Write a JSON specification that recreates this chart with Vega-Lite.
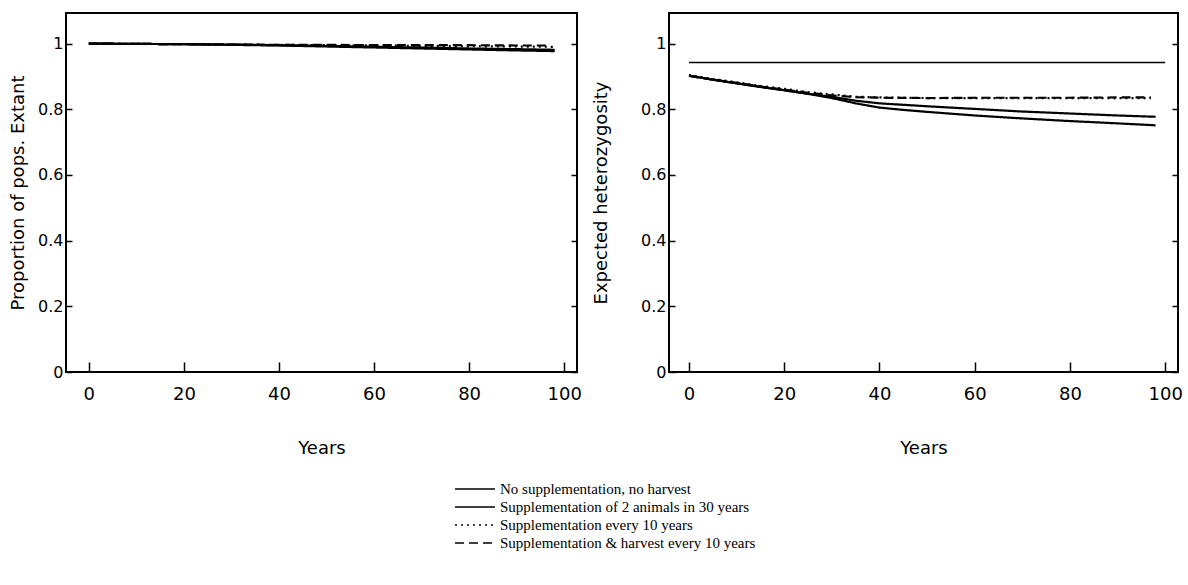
{
  "$schema": "https://vega.github.io/schema/vega-lite/v6.json",
  "padding": {"left": 8, "top": 12, "right": 5, "bottom": 5},
  "background": "white",
  "config": {
    "view": {"stroke": "black", "strokeWidth": 2},
    "font": "DejaVu Sans",
    "axis": {"domain": false, "grid": false, "tickColor": "black", "tickWidth": 1.5, "labelColor": "black", "titleColor": "black", "labelFont": "DejaVu Sans", "titleFont": "DejaVu Sans", "titleFontWeight": "normal", "labelFontSize": 16, "titleFontSize": 18}
  },
  "datasets": {
    "rows": [
      {"panel": "extant", "series": "No supplementation, no harvest", "year": 0, "value": 1.0},
      {"panel": "extant", "series": "No supplementation, no harvest", "year": 10, "value": 0.999},
      {"panel": "extant", "series": "No supplementation, no harvest", "year": 20, "value": 0.998},
      {"panel": "extant", "series": "No supplementation, no harvest", "year": 30, "value": 0.996},
      {"panel": "extant", "series": "No supplementation, no harvest", "year": 40, "value": 0.994},
      {"panel": "extant", "series": "No supplementation, no harvest", "year": 50, "value": 0.991},
      {"panel": "extant", "series": "No supplementation, no harvest", "year": 60, "value": 0.988},
      {"panel": "extant", "series": "No supplementation, no harvest", "year": 70, "value": 0.985},
      {"panel": "extant", "series": "No supplementation, no harvest", "year": 80, "value": 0.982},
      {"panel": "extant", "series": "No supplementation, no harvest", "year": 90, "value": 0.979},
      {"panel": "extant", "series": "No supplementation, no harvest", "year": 98, "value": 0.977},
      {"panel": "extant", "series": "Supplementation of 2 animals in 30 years", "year": 0, "value": 1.0},
      {"panel": "extant", "series": "Supplementation of 2 animals in 30 years", "year": 10, "value": 0.999},
      {"panel": "extant", "series": "Supplementation of 2 animals in 30 years", "year": 20, "value": 0.998},
      {"panel": "extant", "series": "Supplementation of 2 animals in 30 years", "year": 30, "value": 0.997},
      {"panel": "extant", "series": "Supplementation of 2 animals in 30 years", "year": 40, "value": 0.995},
      {"panel": "extant", "series": "Supplementation of 2 animals in 30 years", "year": 50, "value": 0.993},
      {"panel": "extant", "series": "Supplementation of 2 animals in 30 years", "year": 60, "value": 0.99},
      {"panel": "extant", "series": "Supplementation of 2 animals in 30 years", "year": 70, "value": 0.988},
      {"panel": "extant", "series": "Supplementation of 2 animals in 30 years", "year": 80, "value": 0.985},
      {"panel": "extant", "series": "Supplementation of 2 animals in 30 years", "year": 90, "value": 0.983},
      {"panel": "extant", "series": "Supplementation of 2 animals in 30 years", "year": 98, "value": 0.981},
      {"panel": "extant", "series": "Supplementation every 10 years", "year": 0, "value": 1.0},
      {"panel": "extant", "series": "Supplementation every 10 years", "year": 10, "value": 0.999},
      {"panel": "extant", "series": "Supplementation every 10 years", "year": 20, "value": 0.998},
      {"panel": "extant", "series": "Supplementation every 10 years", "year": 30, "value": 0.997},
      {"panel": "extant", "series": "Supplementation every 10 years", "year": 40, "value": 0.996},
      {"panel": "extant", "series": "Supplementation every 10 years", "year": 50, "value": 0.995},
      {"panel": "extant", "series": "Supplementation every 10 years", "year": 60, "value": 0.994},
      {"panel": "extant", "series": "Supplementation every 10 years", "year": 70, "value": 0.993},
      {"panel": "extant", "series": "Supplementation every 10 years", "year": 80, "value": 0.992},
      {"panel": "extant", "series": "Supplementation every 10 years", "year": 90, "value": 0.991},
      {"panel": "extant", "series": "Supplementation every 10 years", "year": 98, "value": 0.99},
      {"panel": "extant", "series": "Supplementation & harvest every 10 years", "year": 0, "value": 1.0},
      {"panel": "extant", "series": "Supplementation & harvest every 10 years", "year": 10, "value": 0.999},
      {"panel": "extant", "series": "Supplementation & harvest every 10 years", "year": 20, "value": 0.998},
      {"panel": "extant", "series": "Supplementation & harvest every 10 years", "year": 30, "value": 0.997},
      {"panel": "extant", "series": "Supplementation & harvest every 10 years", "year": 40, "value": 0.996},
      {"panel": "extant", "series": "Supplementation & harvest every 10 years", "year": 50, "value": 0.996},
      {"panel": "extant", "series": "Supplementation & harvest every 10 years", "year": 60, "value": 0.995},
      {"panel": "extant", "series": "Supplementation & harvest every 10 years", "year": 70, "value": 0.995},
      {"panel": "extant", "series": "Supplementation & harvest every 10 years", "year": 80, "value": 0.995},
      {"panel": "extant", "series": "Supplementation & harvest every 10 years", "year": 90, "value": 0.994},
      {"panel": "extant", "series": "Supplementation & harvest every 10 years", "year": 97, "value": 0.994},

      {"panel": "het", "series": "No supplementation, no harvest", "year": 0, "value": 0.902},
      {"panel": "het", "series": "No supplementation, no harvest", "year": 5, "value": 0.89},
      {"panel": "het", "series": "No supplementation, no harvest", "year": 10, "value": 0.879},
      {"panel": "het", "series": "No supplementation, no harvest", "year": 15, "value": 0.868},
      {"panel": "het", "series": "No supplementation, no harvest", "year": 20, "value": 0.858},
      {"panel": "het", "series": "No supplementation, no harvest", "year": 25, "value": 0.847},
      {"panel": "het", "series": "No supplementation, no harvest", "year": 30, "value": 0.834},
      {"panel": "het", "series": "No supplementation, no harvest", "year": 35, "value": 0.818},
      {"panel": "het", "series": "No supplementation, no harvest", "year": 40, "value": 0.805},
      {"panel": "het", "series": "No supplementation, no harvest", "year": 45, "value": 0.798},
      {"panel": "het", "series": "No supplementation, no harvest", "year": 50, "value": 0.792},
      {"panel": "het", "series": "No supplementation, no harvest", "year": 60, "value": 0.781},
      {"panel": "het", "series": "No supplementation, no harvest", "year": 70, "value": 0.772},
      {"panel": "het", "series": "No supplementation, no harvest", "year": 80, "value": 0.764},
      {"panel": "het", "series": "No supplementation, no harvest", "year": 90, "value": 0.757},
      {"panel": "het", "series": "No supplementation, no harvest", "year": 98, "value": 0.751},
      {"panel": "het", "series": "Supplementation of 2 animals in 30 years", "year": 0, "value": 0.902},
      {"panel": "het", "series": "Supplementation of 2 animals in 30 years", "year": 5, "value": 0.89},
      {"panel": "het", "series": "Supplementation of 2 animals in 30 years", "year": 10, "value": 0.879},
      {"panel": "het", "series": "Supplementation of 2 animals in 30 years", "year": 15, "value": 0.868},
      {"panel": "het", "series": "Supplementation of 2 animals in 30 years", "year": 20, "value": 0.858},
      {"panel": "het", "series": "Supplementation of 2 animals in 30 years", "year": 25, "value": 0.847},
      {"panel": "het", "series": "Supplementation of 2 animals in 30 years", "year": 30, "value": 0.838},
      {"panel": "het", "series": "Supplementation of 2 animals in 30 years", "year": 35, "value": 0.826},
      {"panel": "het", "series": "Supplementation of 2 animals in 30 years", "year": 40, "value": 0.818},
      {"panel": "het", "series": "Supplementation of 2 animals in 30 years", "year": 50, "value": 0.809},
      {"panel": "het", "series": "Supplementation of 2 animals in 30 years", "year": 60, "value": 0.801},
      {"panel": "het", "series": "Supplementation of 2 animals in 30 years", "year": 70, "value": 0.793},
      {"panel": "het", "series": "Supplementation of 2 animals in 30 years", "year": 80, "value": 0.787},
      {"panel": "het", "series": "Supplementation of 2 animals in 30 years", "year": 90, "value": 0.781},
      {"panel": "het", "series": "Supplementation of 2 animals in 30 years", "year": 98, "value": 0.777},
      {"panel": "het", "series": "Supplementation every 10 years", "year": 0, "value": 0.904},
      {"panel": "het", "series": "Supplementation every 10 years", "year": 5, "value": 0.892},
      {"panel": "het", "series": "Supplementation every 10 years", "year": 10, "value": 0.882},
      {"panel": "het", "series": "Supplementation every 10 years", "year": 15, "value": 0.871},
      {"panel": "het", "series": "Supplementation every 10 years", "year": 20, "value": 0.862},
      {"panel": "het", "series": "Supplementation every 10 years", "year": 25, "value": 0.852},
      {"panel": "het", "series": "Supplementation every 10 years", "year": 30, "value": 0.845},
      {"panel": "het", "series": "Supplementation every 10 years", "year": 35, "value": 0.838},
      {"panel": "het", "series": "Supplementation every 10 years", "year": 40, "value": 0.836},
      {"panel": "het", "series": "Supplementation every 10 years", "year": 50, "value": 0.834},
      {"panel": "het", "series": "Supplementation every 10 years", "year": 60, "value": 0.834},
      {"panel": "het", "series": "Supplementation every 10 years", "year": 70, "value": 0.834},
      {"panel": "het", "series": "Supplementation every 10 years", "year": 80, "value": 0.834},
      {"panel": "het", "series": "Supplementation every 10 years", "year": 90, "value": 0.834},
      {"panel": "het", "series": "Supplementation every 10 years", "year": 97, "value": 0.834},
      {"panel": "het", "series": "Supplementation & harvest every 10 years", "year": 0, "value": 0.902},
      {"panel": "het", "series": "Supplementation & harvest every 10 years", "year": 5, "value": 0.89},
      {"panel": "het", "series": "Supplementation & harvest every 10 years", "year": 10, "value": 0.88},
      {"panel": "het", "series": "Supplementation & harvest every 10 years", "year": 15, "value": 0.869},
      {"panel": "het", "series": "Supplementation & harvest every 10 years", "year": 20, "value": 0.86},
      {"panel": "het", "series": "Supplementation & harvest every 10 years", "year": 25, "value": 0.85},
      {"panel": "het", "series": "Supplementation & harvest every 10 years", "year": 30, "value": 0.842},
      {"panel": "het", "series": "Supplementation & harvest every 10 years", "year": 35, "value": 0.837},
      {"panel": "het", "series": "Supplementation & harvest every 10 years", "year": 40, "value": 0.835},
      {"panel": "het", "series": "Supplementation & harvest every 10 years", "year": 50, "value": 0.834},
      {"panel": "het", "series": "Supplementation & harvest every 10 years", "year": 60, "value": 0.835},
      {"panel": "het", "series": "Supplementation & harvest every 10 years", "year": 70, "value": 0.835},
      {"panel": "het", "series": "Supplementation & harvest every 10 years", "year": 80, "value": 0.835},
      {"panel": "het", "series": "Supplementation & harvest every 10 years", "year": 90, "value": 0.836},
      {"panel": "het", "series": "Supplementation & harvest every 10 years", "year": 97, "value": 0.836},
      {"panel": "het", "series": "Reference", "year": 0, "value": 0.942},
      {"panel": "het", "series": "Reference", "year": 100, "value": 0.942}
    ]
  },
  "spacing": 8,
  "resolve": {"scale": {"strokeDash": "shared"}, "legend": {"strokeDash": "shared"}},
  "hconcat": [
    {
      "width": 511,
      "height": 359,
      "data": {"name": "rows"},
      "transform": [{"filter": "datum.panel === 'extant'"}],
      "layer": [
        {
          "mark": {"type": "line", "color": "black", "strokeWidth": 2.2},
          "encoding": {
            "x": {"field": "year", "type": "quantitative", "scale": {"domain": [-4.8, 102.7], "nice": false, "zero": false},
                  "axis": {"values": [0, 20, 40, 60, 80, 100], "tickSize": -10, "labelPadding": 23, "labelFontSize": 18, "title": "Years", "titlePadding": 36}},
            "y": {"field": "value", "type": "quantitative", "scale": {"domain": [0, 1.093], "nice": false, "zero": false},
                  "axis": {"values": [0, 0.2, 0.4, 0.6, 0.8, 1], "format": "~g", "tickSize": -6, "labelPadding": 9, "title": "Proportion of pops. Extant", "titlePadding": 10}},
            "strokeDash": {"field": "series", "type": "nominal",
              "scale": {"domain": ["No supplementation, no harvest", "Supplementation of 2 animals in 30 years", "Supplementation every 10 years", "Supplementation & harvest every 10 years"],
                        "range": [[1, 0], [1, 0], [2, 4], [9, 5]]},
              "legend": {"title": null, "orient": "none", "legendX": 388, "legendY": 468, "symbolType": "stroke", "symbolSize": 1600, "symbolStrokeColor": "black", "symbolStrokeWidth": 1.5, "labelFont": "Liberation Serif", "labelFontSize": 15, "labelColor": "black", "clipHeight": 16, "rowPadding": 2, "labelOffset": 4, "labelLimit": 500}}
          }
        },
        {
          "mark": {"type": "line", "color": "black", "opacity": 0},
          "encoding": {
            "x": {"field": "year", "type": "quantitative"},
            "y": {"field": "value", "type": "quantitative", "axis": {"orient": "right", "values": [0, 0.2, 0.4, 0.6, 0.8, 1], "tickSize": -6, "labels": false, "title": null}}
          }
        }
      ],
      "resolve": {"axis": {"y": "independent"}}
    },
    {
      "width": 509,
      "height": 359,
      "data": {"name": "rows"},
      "transform": [{"filter": "datum.panel === 'het'"}],
      "layer": [
        {
          "transform": [{"filter": "datum.series !== 'Reference'"}],
          "mark": {"type": "line", "color": "black", "strokeWidth": 2.2},
          "encoding": {
            "x": {"field": "year", "type": "quantitative", "scale": {"domain": [-4.2, 102.7], "nice": false, "zero": false},
                  "axis": {"values": [0, 20, 40, 60, 80, 100], "tickSize": -10, "labelPadding": 23, "labelFontSize": 18, "title": "Years", "titlePadding": 36}},
            "y": {"field": "value", "type": "quantitative", "scale": {"domain": [0, 1.093], "nice": false, "zero": false},
                  "axis": {"values": [0, 0.2, 0.4, 0.6, 0.8, 1], "format": "~g", "tickSize": -6, "labelPadding": 9, "title": "Expected heterozygosity", "titlePadding": 30}},
            "strokeDash": {"field": "series", "type": "nominal",
              "scale": {"domain": ["No supplementation, no harvest", "Supplementation of 2 animals in 30 years", "Supplementation every 10 years", "Supplementation & harvest every 10 years"],
                        "range": [[1, 0], [1, 0], [2, 4], [9, 5]]},
              "legend": {"title": null, "orient": "none", "legendX": 388, "legendY": 468, "symbolType": "stroke", "symbolSize": 1600, "symbolStrokeColor": "black", "symbolStrokeWidth": 1.5, "labelFont": "Liberation Serif", "labelFontSize": 15, "labelColor": "black", "clipHeight": 16, "rowPadding": 2, "labelOffset": 4, "labelLimit": 500}}
          }
        },
        {
          "transform": [{"filter": "datum.series === 'Reference'"}],
          "mark": {"type": "line", "color": "black", "strokeWidth": 1.5},
          "encoding": {
            "x": {"field": "year", "type": "quantitative"},
            "y": {"field": "value", "type": "quantitative", "axis": null}
          }
        },
        {
          "mark": {"type": "line", "color": "black", "opacity": 0},
          "encoding": {
            "x": {"field": "year", "type": "quantitative"},
            "y": {"field": "value", "type": "quantitative", "axis": {"orient": "right", "values": [0, 0.2, 0.4, 0.6, 0.8, 1], "tickSize": -6, "labels": false, "title": null}}
          }
        }
      ],
      "resolve": {"axis": {"y": "independent"}}
    }
  ]
}
